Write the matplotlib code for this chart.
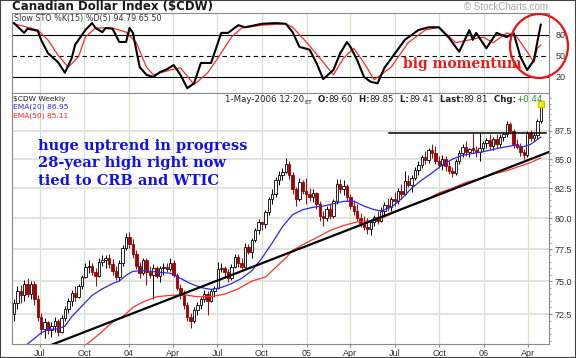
import numpy as np
import pandas as pd
import matplotlib.pyplot as plt
import matplotlib.dates as mdates
from matplotlib.patches import Ellipse, Rectangle
from matplotlib.ticker import FixedLocator, NullFormatter

plt.rcParams['font.family'] = ['Liberation Sans', 'DejaVu Sans']

# weekly candles, first bar week of 9 May 2003
week_start = '2003-05-09'
opens = [72.5, 73.3, 74.2, 73.9, 74.8, 74.0, 74.8, 73.6, 72.3, 71.4,
         71.9, 71.3, 71.6, 72.0, 71.2, 72.2, 72.9, 73.5, 74.1, 73.8,
         74.6, 75.3, 76.1, 76.2, 75.7, 75.4, 76.5, 76.6, 76.8, 76.3,
         75.8, 75.3, 76.4, 77.6, 78.5, 77.9, 77.1, 76.2, 75.6, 76.6,
         75.7, 75.5, 76.0, 75.4, 76.0, 76.1, 75.9, 76.4, 75.5, 74.5,
         73.9, 73.2, 72.3, 72.0, 72.8, 73.2, 73.6, 74.0, 73.5, 74.2,
         74.5, 75.9, 76.0, 75.7, 75.2, 76.1, 76.9, 76.4, 76.1, 77.7,
         77.3, 78.2, 79.0, 79.7, 79.5, 80.5, 81.6, 82.0, 83.2, 83.6,
         83.9, 84.6, 83.6, 82.4, 81.6, 83.0, 82.3, 82.0, 81.8, 82.1,
         81.2, 80.2, 80.0, 80.8, 80.2, 81.4, 82.9, 82.4, 82.7, 81.8,
         81.0, 80.6, 80.0, 79.6, 79.3, 79.1, 79.7, 80.1, 79.8, 80.6,
         81.1, 80.9, 81.6, 81.4, 82.3, 82.0, 83.1, 82.8, 83.4, 84.1,
         84.5, 85.2, 84.9, 85.8, 85.5, 84.8, 84.5, 85.0, 84.4, 84.0,
         83.8, 84.8, 85.5, 86.1, 85.6, 86.0, 85.8, 85.6, 86.0, 86.4,
         86.7, 86.2, 86.8, 86.3, 87.0, 87.2, 88.1, 87.5, 86.3, 86.1,
         85.6, 85.4, 87.3, 86.9, 87.1, 88.4]
highs = [73.6, 74.6, 74.7, 75.1, 75.2, 75.0, 75.0, 73.9, 72.6, 72.2,
         72.0, 71.9, 72.3, 72.1, 72.4, 73.1, 73.7, 74.3, 74.6, 74.8,
         75.5, 76.4, 76.6, 76.4, 76.0, 76.8, 77.0, 77.0, 77.1, 76.7,
         76.2, 76.6, 77.8, 78.8, 78.9, 78.3, 77.4, 76.5, 76.8, 76.8,
         76.2, 76.3, 76.2, 76.2, 76.4, 76.4, 76.8, 76.6, 75.6, 74.8,
         74.3, 73.4, 72.6, 73.0, 73.4, 73.8, 74.3, 74.2, 74.4, 74.6,
         76.5, 76.4, 76.2, 75.9, 76.3, 77.1, 77.1, 76.8, 78.0, 77.9,
         78.4, 79.2, 79.9, 79.8, 80.7, 81.8, 82.4, 83.5, 84.0, 84.2,
         85.1, 84.8, 83.9, 82.6, 83.4, 83.2, 83.4, 82.5, 82.4, 82.2,
         81.4, 80.6, 81.0, 81.2, 81.6, 83.3, 83.3, 83.2, 82.9, 82.0,
         81.5, 81.2, 80.4, 80.2, 80.0, 79.9, 80.3, 80.6, 80.9, 81.3,
         81.7, 81.8, 82.2, 82.5, 82.9, 84.0, 83.6, 83.6, 84.3, 84.8,
         85.4, 85.7, 86.0, 86.3, 86.2, 85.3, 85.4, 85.3, 84.8, 84.3,
         85.0, 85.8, 86.3, 86.6, 86.0, 87.4, 86.2, 87.3, 86.6, 86.9,
         87.2, 87.0, 87.2, 87.2, 87.4, 88.4, 88.3, 87.7, 86.8, 86.4,
         85.9, 87.5, 87.6, 87.3, 88.6, 89.85]
lows = [72.0, 72.9, 73.3, 73.5, 73.8, 73.6, 73.2, 72.0, 71.0, 70.7,
        71.0, 70.8, 71.2, 70.9, 71.1, 72.0, 72.6, 73.1, 73.5, 73.7,
        74.4, 75.2, 75.6, 75.5, 74.6, 75.3, 76.2, 76.0, 76.0, 75.5,
        75.1, 75.0, 76.2, 77.4, 77.6, 76.8, 75.9, 75.2, 75.5, 74.7,
        75.2, 73.6, 75.2, 74.9, 75.5, 75.7, 75.8, 75.3, 74.3, 73.6,
        72.9, 72.0, 71.5, 71.8, 72.4, 72.9, 73.4, 72.4, 73.4, 73.8,
        74.4, 75.7, 75.3, 74.9, 75.1, 76.0, 76.1, 75.9, 76.0, 77.1,
        76.8, 78.1, 78.7, 79.0, 79.2, 80.3, 81.2, 81.8, 82.8, 83.2,
        83.8, 83.3, 82.0, 81.0, 81.4, 82.0, 81.2, 81.4, 81.3, 80.8,
        79.8, 79.4, 79.8, 79.9, 80.0, 81.2, 82.1, 81.9, 81.4, 80.8,
        80.3, 79.8, 79.3, 79.0, 78.7, 78.6, 79.4, 79.5, 79.7, 80.1,
        80.6, 80.6, 81.0, 81.2, 81.6, 81.9, 82.6, 82.2, 83.2, 83.6,
        84.2, 84.6, 84.7, 85.1, 84.6, 84.2, 84.1, 84.0, 83.7, 83.5,
        83.6, 84.6, 85.2, 85.3, 85.2, 85.5, 85.2, 84.8, 85.7, 86.0,
        85.9, 85.8, 86.0, 86.1, 86.6, 87.0, 87.2, 86.0, 85.9, 85.3,
        85.0, 85.2, 86.6, 86.6, 86.9, 88.2]
closes = [73.3, 74.2, 73.9, 74.8, 74.0, 74.8, 73.6, 72.3, 71.4, 71.9,
          71.3, 71.6, 72.0, 71.2, 72.2, 72.9, 73.5, 74.1, 73.8, 74.6,
          75.3, 76.1, 76.2, 75.7, 75.4, 76.5, 76.6, 76.8, 76.3, 75.8,
          75.3, 76.4, 77.6, 78.5, 77.9, 77.1, 76.2, 75.6, 76.6, 75.7,
          75.5, 76.0, 75.4, 76.0, 76.1, 75.9, 76.4, 75.5, 74.5, 73.9,
          73.2, 72.3, 72.0, 72.8, 73.2, 73.6, 74.0, 73.5, 74.2, 74.5,
          75.9, 76.0, 75.7, 75.2, 76.1, 76.9, 76.4, 76.1, 77.7, 77.3,
          78.2, 79.0, 79.7, 79.5, 80.5, 81.6, 82.0, 83.2, 83.6, 83.9,
          84.6, 83.6, 82.4, 81.6, 83.0, 82.3, 82.0, 81.8, 82.1, 81.2,
          80.2, 80.0, 80.8, 80.2, 81.4, 82.9, 82.4, 82.7, 81.8, 81.0,
          80.6, 80.0, 79.6, 79.3, 79.1, 79.7, 80.1, 79.8, 80.6, 81.1,
          80.9, 81.6, 81.4, 82.3, 82.0, 83.1, 82.8, 83.4, 84.1, 84.5,
          85.2, 84.9, 85.8, 85.5, 84.8, 84.5, 85.0, 84.4, 84.0, 83.8,
          84.8, 85.5, 86.1, 85.6, 85.9, 85.8, 85.6, 86.0, 86.4, 86.7,
          86.2, 86.8, 86.3, 87.0, 87.2, 88.1, 87.5, 86.3, 86.1, 85.6,
          85.4, 87.3, 86.9, 87.1, 88.4, 89.81]

# moving averages (bar number, value)
ema20_bar = [0, 4, 8, 10, 13, 15, 17, 20, 23, 26, 29, 31, 33, 35, 38, 42, 46, 49, 52,
             55, 58, 61, 64, 67, 70, 73, 76, 79, 82, 85, 88, 91, 94, 97, 100, 103,
             106, 108, 111, 114, 117, 120, 123, 126, 129, 132, 135, 138, 141, 144,
             147, 150, 152, 155]
ema20_val = [69.4, 70.3, 71.1, 71.35, 71.4, 71.6, 72.3, 73.1, 73.9, 74.4, 74.8, 75.0,
             75.45, 75.75, 75.8, 75.7, 75.6, 75.2, 74.8, 74.5, 74.35, 74.5, 74.8, 75.2,
             75.8, 76.8, 78.0, 79.3, 80.3, 80.7, 80.9, 81.0, 81.2, 81.4, 81.4, 81.0,
             80.7, 80.6, 80.9, 81.6, 82.5, 83.2, 83.8, 84.5, 85.0, 85.35, 85.5, 85.65,
             85.85, 86.05, 86.2, 86.1, 86.3, 86.95]
ema50_bar = [16, 21, 25, 29, 32, 35, 38, 42, 46, 50, 54, 58, 62, 66, 70, 74, 78, 80,
             82, 86, 89, 93, 97, 101, 105, 109, 113, 117, 121, 125, 129, 133, 137,
             141, 145, 149, 152, 155]
ema50_val = [69.0, 70.2, 71.0, 71.9, 72.3, 73.0, 73.4, 73.8, 73.9, 73.95, 73.8, 73.8,
             74.0, 74.4, 75.0, 75.3, 76.3, 76.8, 77.4, 78.0, 78.4, 79.0, 79.4, 79.7,
             79.8, 80.1, 80.6, 81.1, 81.5, 82.1, 82.5, 83.0, 83.3, 83.7, 84.0, 84.4,
             84.7, 85.11]

# slow stochastic
k_bar = [0, 3, 4, 7, 8, 10, 13, 15, 17, 18, 21, 23, 24, 26, 27, 29, 31, 33, 34, 35,
         37, 39, 41, 43, 45, 47, 49, 51, 53, 55, 58, 61, 63, 66, 68, 73, 77, 80, 82,
         84, 87, 89, 91, 94, 96, 98, 99, 101, 103, 105, 107, 109, 112, 115, 119, 122,
         125, 128, 131, 134, 135, 136, 139, 142, 145, 147, 149, 151, 153, 154, 155]
k_val = [97, 83, 89, 86, 73, 54, 41, 26, 47, 66, 87, 97, 90, 84, 90, 89, 70, 70, 90, 83,
         34, 23, 20, 27, 31, 37, 23, 4, 11, 40, 40, 83, 83, 94, 91, 96, 97, 96, 84,
         63, 59, 40, 17, 30, 54, 70, 63, 44, 20, 13, 11, 33, 53, 73, 87, 91,
         91, 76, 56, 87, 73, 83, 61, 83, 77, 83, 49, 30, 44, 70, 94.79]
d_bar = [0, 4, 7, 10, 13, 16, 19, 21, 24, 29, 33, 36, 39, 41, 46, 49, 53, 57, 60, 64,
         67, 73, 80, 82, 86, 90, 94, 97, 100, 103, 106, 111, 116, 121, 125, 130, 134,
         138, 141, 145, 148, 151, 153, 154, 155]
d_val = [96, 91, 87, 73, 51, 34, 49, 77, 90, 90, 84, 69, 34, 23, 30, 33, 9, 26, 47, 77,
         90, 94, 96, 91, 70, 47, 23, 47, 61, 40, 16, 34, 69, 87, 91, 69, 73,
         77, 69, 83, 77, 56, 41, 61, 65.5]

trend_dates = ['2003-07-15', '2006-05-15']
trend_vals = [70.1, 85.63]
resist_dates = ['2005-06-19', '2006-05-08']
resist_vals = [87.3, 87.3]

quarters = pd.date_range('2003-07-01', '2006-04-01', freq='QS')
quarter_labels = ['Jul', 'Oct', '04', 'Apr', 'Jul', 'Oct', '05', 'Apr', 'Jul', 'Oct', '06', 'Apr']
price_ticks = [72.5, 75.0, 77.5, 80.0, 82.5, 85.0, 87.5]

dates = pd.date_range(week_start, periods=len(closes), freq='7D')
xs = mdates.date2num(dates)
o, h, l, c = map(np.array, (opens, highs, lows, closes))

W, H = 576, 358
fig = plt.figure(figsize=(W / 100, H / 100), dpi=100)


def fx(px):
    return px / W


def fy(py):
    return 1 - py / H


ax_sto = fig.add_axes([fx(12), fy(93), fx(549) - fx(12), fy(13) - fy(93)])
ax = fig.add_axes([fx(12), fy(344), fx(549) - fx(12), fy(93) - fy(344)], sharex=ax_sto)

grid_green = '#cde6c6'
for a in (ax, ax_sto):
    for q in quarters:
        a.axvline(q, color=grid_green, lw=0.9, zorder=0)
    for s in a.spines.values():
        s.set_color('#8a8a8a')
        s.set_linewidth(0.8)

# stochastic panel
ax_sto.axhline(80, color='black', lw=0.8, zorder=1)
ax_sto.axhline(20, color='black', lw=0.8, zorder=1)
ax_sto.axhline(50, color='black', lw=0.8, ls=(0, (4, 3)), zorder=1)
ax_sto.plot(dates[d_bar], d_val, color='#ff2a2a', lw=0.9, zorder=2)
ax_sto.plot(dates[k_bar], k_val, color='black', lw=1.5, zorder=3)
ax_sto.set_ylim(-2.9, 111.4)
ax_sto.yaxis.tick_right()
ax_sto.set_yticks([20, 50, 80])
ax_sto.tick_params(axis='y', labelsize=6.5, length=0, pad=5, labelcolor='#333333')
ax_sto.tick_params(axis='x', length=0, labelbottom=False)

# price panel
for v in price_ticks:
    ax.axhline(v, color='#e2e2e2', lw=1.4, zorder=0)

up = c >= o
lo_b = np.minimum(o, c)
hi_b = np.maximum(o, c)
ax.vlines(xs[up], l[up], h[up], color='black', lw=0.7, zorder=2)
ax.vlines(xs[~up], l[~up], h[~up], color='#b00000', lw=0.7, zorder=2)
ax.bar(xs[up], hi_b[up] - lo_b[up], bottom=lo_b[up], width=5,
       color='white', edgecolor='black', lw=0.6, zorder=3)
ax.bar(xs[~up], hi_b[~up] - lo_b[~up], bottom=lo_b[~up], width=5,
       color='#a00000', edgecolor='#a00000', lw=0.6, zorder=3)

ax.plot(dates[ema50_bar], ema50_val, color='#ff3030', lw=0.9, zorder=4)
ax.plot(dates[ema20_bar], ema20_val, color='#2a2ae6', lw=0.9, zorder=4)
ax.plot(pd.to_datetime(trend_dates), trend_vals, color='black', lw=1.6, zorder=5)
ax.plot(pd.to_datetime(resist_dates), resist_vals, color='black', lw=1.1, zorder=5)
ax.plot(dates[-1], 89.95, marker='s', ms=4, color='#f2f200', mec='#c8c800', zorder=6)

ax.set_yscale('log')
ax.set_ylim(70.3, 90.98)
ax.set_xlim(pd.Timestamp('2003-05-05'), pd.Timestamp('2006-05-15'))
ax.yaxis.tick_right()
ax.yaxis.set_major_locator(FixedLocator(price_ticks))
ax.yaxis.set_major_formatter(plt.FuncFormatter(lambda v, p: f'{v:.1f}'))
ax.yaxis.set_minor_locator(FixedLocator(np.arange(70.5, 91, 0.5)))
ax.yaxis.set_minor_formatter(NullFormatter())
ax.tick_params(axis='y', which='major', labelsize=6.5, length=2, pad=2,
               color='#8a8a8a', labelcolor='#333333')
ax.tick_params(axis='y', which='minor', length=1.5, color='#8a8a8a')
ax.set_xticks(quarters)
ax.set_xticklabels(quarter_labels)
ax.tick_params(axis='x', labelsize=6.5, length=2, pad=1.5, color='#8a8a8a',
               labelcolor='#333333')

# texts
small = dict(family='DejaVu Sans', va='baseline')
fig.text(fx(12), fy(10.2), 'Canadian Dollar Index ($CDW)', fontsize=8.5,
         fontweight='bold', va='baseline', color='#1a1a1a', family='DejaVu Sans')
fig.text(fx(548), fy(10.5), '\u00a9 StockCharts.com', fontsize=7, ha='right',
         va='baseline', color='#a8a8a8')
fig.text(fx(14), fy(20.5), 'Slow STO %K(15) %D(5) 94.79 65.50', fontsize=5.8,
         color='#333333', **small)
fig.text(fx(13), fy(100.5), '$CDW Weekly', fontsize=5.4, color='#222222', **small)
fig.text(fx(13), fy(109), 'EMA(20) 86.95', fontsize=5.4, color='#2a2ae6', **small)
fig.text(fx(13), fy(117.5), 'EMA(50) 85.11', fontsize=5.4, color='#ff2020', **small)

header = [('1-May-2006 12:20', 'normal', 6.2, '#222222'), ('ET', 'normal', 4.6, '#222222'),
          ('  O:', 'bold', 6.2, '#222222'), ('89.60', 'normal', 6.2, '#222222'),
          ('  H:', 'bold', 6.2, '#222222'), ('89.85', 'normal', 6.2, '#222222'),
          ('  L:', 'bold', 6.2, '#222222'), ('89.41', 'normal', 6.2, '#222222'),
          ('  Last:', 'bold', 6.2, '#222222'), ('89.81', 'normal', 6.2, '#222222'),
          ('  Chg:', 'bold', 6.2, '#222222'), ('+0.44', 'normal', 6.2, '#1f9a1f')]
prev = None
for txt, wt, sz, col in header:
    if prev is None:
        prev = fig.text(fx(225), fy(102.5), txt, fontsize=sz, fontweight=wt, color=col,
                        **small)
    else:
        prev = ax.annotate(txt, xy=(1, 0), xycoords=prev, fontsize=sz, fontweight=wt,
                           color=col, va='bottom', ha='left', family='DejaVu Sans',
                           annotation_clip=False)

note = ['huge uptrend in progress', '28-year high right now', 'tied to CRB and WTIC']
for line, base in zip(note, [150, 167.5, 185]):
    fig.text(fx(38), fy(base), line, fontsize=10.5, fontweight='bold', family='DejaVu Serif',
             color='#1010f2', va='baseline')
fig.text(fx(403), fy(68), 'big momentum', fontsize=10, fontweight='bold',
         family='DejaVu Serif', color='#f01818', va='baseline')

fig.add_artist(Ellipse((fx(539), fy(46)), 58 / W, 64 / H, transform=fig.transFigure,
                       fill=False, ec='#ee1111', lw=1.6))
fig.add_artist(Rectangle((0, 0), 1, 1, transform=fig.transFigure, fill=False,
                         ec='#444444', lw=1.5))

fig.savefig('out.png', dpi=100)
